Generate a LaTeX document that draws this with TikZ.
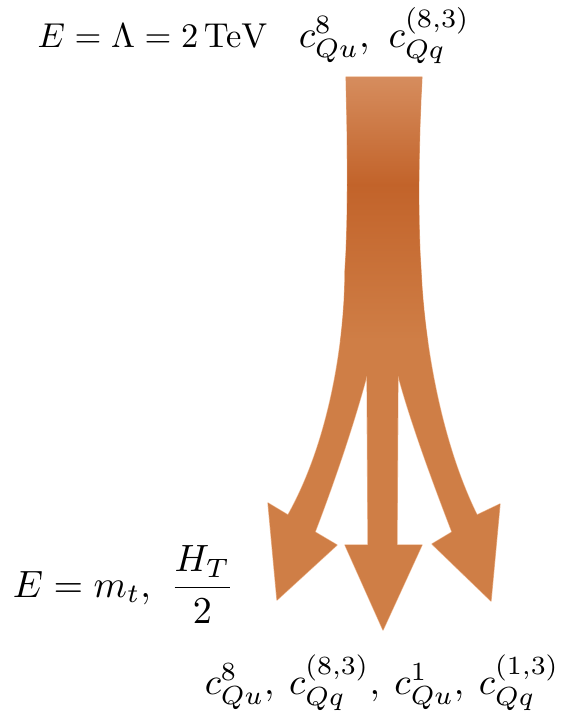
\documentclass[tikz,border=0pt]{standalone}
\definecolor{topc}{HTML}{D68D5E}
\definecolor{midc}{HTML}{C2632A}
\definecolor{arrc}{HTML}{CF7E46}
\definecolor{edgec}{HTML}{EDB892}
\tikzset{lbl/.style={inner sep=0pt, scale=3.45}}
\begin{document}
\begin{tikzpicture}[x=1pt,y=-1pt]
\useasboundingbox (0,0) rectangle (562,716);
% arrow shape
\def\arrowshape{(346,77) -- (422,77)
  .. controls (418,150) and (418,230) .. (421,270)
  .. controls (424,340) and (440,440) .. (477,515)
  -- (500,504) -- (491,601) -- (432,544) -- (452,532)
  .. controls (432,480) and (410,420) .. (398,375)
  -- (397,545) -- (422,545) -- (383,630) -- (345,545) -- (368,545)
  -- (367,375)
  .. controls (355,420) and (335,480) .. (315,532)
  -- (337,545) -- (277,600) -- (268,503) -- (288,515)
  .. controls (330,440) and (345,340) .. (345,270)
  .. controls (348,230) and (348,150) .. (346,77) -- cycle}
\draw[edgec, line width=1.2pt, line join=round] \arrowshape;
\begin{scope}
  \clip \arrowshape;
  \fill[arrc] (250,60) rectangle (520,650);
  \shade[top color=topc, bottom color=midc] (320,76) rectangle (450,185);
  \shade[top color=midc, bottom color=arrc] (320,184) rectangle (450,340);
\end{scope}
\node[lbl, anchor=base west] (top) at (37,47) {$E=\Lambda=2\,\mathrm{TeV}$};
\node[lbl, scale=3.8/3.45, anchor=base west] (topc) at (298,47) {$c^8_{Qu},\,\,c^{(8,3)}_{Qq}$};
\node[lbl, scale=3.8/3.45, anchor=base west] (left) at (12,597) {$\displaystyle E=m_t,\ \frac{H_T}{2}$};
\node[lbl, scale=3.75/3.45, anchor=base west] (bot) at (204,694) {$c^8_{Qu},\:c^{(8,3)}_{Qq},\:c^1_{Qu},\:c^{(1,3)}_{Qq}$};
\end{tikzpicture}
\end{document}
